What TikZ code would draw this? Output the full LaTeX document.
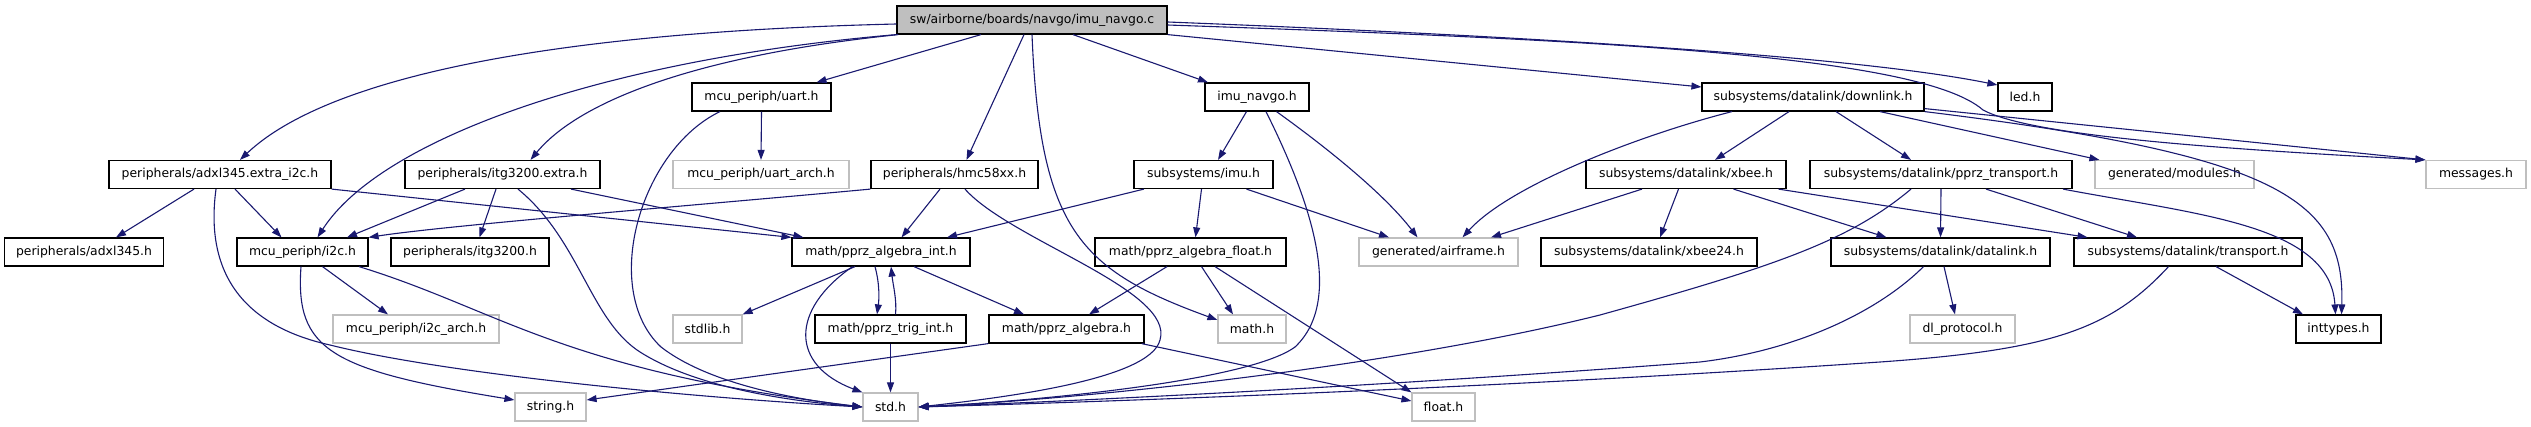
\documentclass[tikz,border=0pt]{standalone}
\usepackage{fontspec}
\setmainfont{DejaVu Sans}
\usetikzlibrary{arrows.meta}
\definecolor{navyline}{RGB}{25,25,112}
\definecolor{boxgray}{RGB}{191,191,191}
\tikzset{
  hdr/.style={rectangle, draw=black, line width=1.2pt, minimum height=28pt,
              inner sep=0pt, align=center},
  sysinc/.style={hdr, draw=boxgray},
  root/.style={hdr, fill=boxgray},
  dep/.style={navyline, line width=1.1pt, -{Triangle[length=10pt,width=7pt]}}
}
\begin{document}
\begin{tikzpicture}[x=1pt, y=-1pt, font=\fontsize{12.4}{14}\selectfont]
\useasboundingbox (0,0) rectangle (2531,427);
% row 0
\node[root, minimum width=270pt] (navgoc) at (1032,20) {sw/airborne/boards/navgo/imu\_navgo.c};
% row 1
\node[hdr, minimum width=139pt] (uart) at (761.5,97) {mcu\_periph/uart.h};
\node[hdr, minimum width=104pt] (navgoh) at (1257,97) {imu\_navgo.h};
\node[hdr, minimum width=222pt] (downlink) at (1813,97) {subsystems/datalink/downlink.h};
\node[hdr, minimum width=54pt] (led) at (2025,97) {led.h};
% row 2
\node[hdr, minimum width=222pt] (adxlx) at (220,174.5) {peripherals/adxl345.extra\_i2c.h};
\node[hdr, minimum width=195pt] (itgx) at (502.5,174.5) {peripherals/itg3200.extra.h};
\node[sysinc, minimum width=176pt] (uartarch) at (761,174.5) {mcu\_periph/uart\_arch.h};
\node[hdr, minimum width=167pt] (hmc) at (954.5,174.5) {peripherals/hmc58xx.h};
\node[hdr, minimum width=139pt] (imu) at (1203.5,174.5) {subsystems/imu.h};
\node[hdr, minimum width=200pt] (xbee) at (1686,174.5) {subsystems/datalink/xbee.h};
\node[hdr, minimum width=262pt] (pprztr) at (1941,174.5) {subsystems/datalink/pprz\_transport.h};
\node[sysinc, minimum width=159pt] (modules) at (2174.5,174.5) {generated/modules.h};
\node[sysinc, minimum width=100pt] (messages) at (2476,174.5) {messages.h};
% row 3
\node[hdr, minimum width=159pt] (adxl) at (84,252) {peripherals/adxl345.h};
\node[hdr, minimum width=131pt] (i2c) at (302.5,252) {mcu\_periph/i2c.h};
\node[hdr, minimum width=158pt] (itg) at (470,252) {peripherals/itg3200.h};
\node[hdr, minimum width=178pt] (algint) at (881,252) {math/pprz\_algebra\_int.h};
\node[hdr, minimum width=191pt] (algfloat) at (1190.5,252) {math/pprz\_algebra\_float.h};
\node[sysinc, minimum width=159pt] (airframe) at (1438.5,252) {generated/airframe.h};
\node[hdr, minimum width=216pt] (xbee24) at (1649,252) {subsystems/datalink/xbee24.h};
\node[hdr, minimum width=219pt] (datalink) at (1940.5,252) {subsystems/datalink/datalink.h};
\node[hdr, minimum width=228pt] (transport) at (2188,252) {subsystems/datalink/transport.h};
% row 4
\node[sysinc, minimum width=166pt] (i2carch) at (416,329) {mcu\_periph/i2c\_arch.h};
\node[sysinc, minimum width=69pt] (stdlib) at (707.5,329) {stdlib.h};
\node[hdr, minimum width=151pt] (trig) at (890.5,329) {math/pprz\_trig\_int.h};
\node[hdr, minimum width=155pt] (alg) at (1066.5,329) {math/pprz\_algebra.h};
\node[sysinc, minimum width=68pt] (math) at (1252,329) {math.h};
\node[sysinc, minimum width=105pt] (dlproto) at (1962.5,329) {dl\_protocol.h};
\node[hdr, minimum width=85pt] (inttypes) at (2338.5,329) {inttypes.h};
% row 5
\node[sysinc, minimum width=71pt] (string) at (550.5,407) {string.h};
\node[sysinc, minimum width=55pt] (std) at (890.5,407) {std.h};
\node[sysinc, minimum width=63pt] (float) at (1443.5,407) {float.h};
% imu_navgo.c
\draw[dep] ([yshift=-4pt]navgoc.west) .. controls (560,32) and (330,75) .. ([xshift=20pt]adxlx.north);
\draw[dep] (navgoc.south west) .. controls (600,60) and (380,140) .. ([xshift=15pt]i2c.north);
\draw[dep] ([xshift=2pt]navgoc.south west) .. controls (700,55) and (580,100) .. ([xshift=28pt]itgx.north);
\draw[dep] ([xshift=-51pt]navgoc.south) -- ([xshift=55pt]uart.north);
\draw[dep] ([xshift=-8pt]navgoc.south) -- ([xshift=12pt]hmc.north);
\draw[dep] (navgoc.south) .. controls (1040,230) and (1080,270) .. ([yshift=9pt]math.west);
\draw[dep] ([xshift=41pt]navgoc.south) -- ([xshift=-49pt]navgoh.north);
\draw[dep] (navgoc.south east) -- ([yshift=10pt]downlink.west);
\draw[dep] ([yshift=-2pt]navgoc.east) .. controls (1500,35) and (1850,55) .. ([yshift=12pt]led.west);
\draw[dep] ([yshift=-5pt]navgoc.east) .. controls (1600,40) and (1920,55) .. (1983,110)
  .. controls (2030,135) and (2200,148) .. (messages.north west);
% downlink.h
\draw[dep] ([xshift=-81pt]downlink.south) .. controls (1640,135) and (1510,185) .. ([xshift=24pt]airframe.north);
\draw[dep] ([xshift=-24pt]downlink.south) -- ([xshift=29pt]xbee.north);
\draw[dep] ([xshift=23pt]downlink.south) -- ([xshift=-30pt]pprztr.north);
\draw[dep] ([xshift=67pt]downlink.south) -- ([xshift=5pt]modules.north west);
\draw[dep] ([yshift=3pt]downlink.south east) -- (messages.north west);
\draw[dep] (downlink.south east) .. controls (2280,155) and (2345,200) .. ([xshift=3pt]inttypes.north);
% imu_navgo.h, imu.h
\draw[dep] ([xshift=-10.5pt]navgoh.south) -- ([xshift=14.5pt]imu.north);
\draw[dep] ([xshift=19.5pt]navgoh.south) .. controls (1330,150) and (1385,195) .. ([xshift=-21pt]airframe.north);
\draw[dep] ([xshift=9pt]navgoh.south) .. controls (1310,200) and (1345,300) .. (1295,347)
  .. controls (1250,380) and (1050,400) .. (std.east);
\draw[dep] ([xshift=10.5pt]imu.south west) -- ([xshift=66pt]algint.north);
\draw[dep] ([xshift=-2pt]imu.south) -- ([xshift=5pt]algfloat.north);
\draw[dep] ([xshift=43pt]imu.south) -- ([xshift=-49.5pt]airframe.north);
% peripherals
\draw[dep] (hmc.south west) .. controls (700,205) and (450,225) .. (i2c.north east);
\draw[dep] ([xshift=-14.5pt]hmc.south) -- ([xshift=20.5pt]algint.north);
\draw[dep] ([xshift=10.5pt]hmc.south) .. controls (1010,240) and (1175,290) .. (1160,340)
  .. controls (1150,380) and (1000,398) .. (std.east);
\draw[dep] ([xshift=-37.5pt]itgx.south) -- ([xshift=44.5pt]i2c.north);
\draw[dep] ([xshift=-6.5pt]itgx.south) -- ([xshift=9.5pt]itg.north);
\draw[dep] ([xshift=15.5pt]itgx.south) .. controls (580,240) and (590,320) .. (640,352)
  .. controls (700,390) and (800,402) .. (std.west);
\draw[dep] ([xshift=68.5pt]itgx.south) -- ([xshift=12pt]algint.north west);
\draw[dep] ([xshift=-26pt]adxlx.south) -- ([xshift=32pt]adxl.north);
\draw[dep] ([xshift=15pt]adxlx.south) -- ([xshift=-21pt]i2c.north);
\draw[dep] ([xshift=-4pt]adxlx.south) .. controls (205,270) and (240,325) .. (330,345)
  .. controls (450,375) and (700,398) .. (std.west);
\draw[dep] (adxlx.south east) -- (algint.north west);
% mcu_periph
\draw[dep] ([xshift=20pt]i2c.south) -- ([xshift=-28pt]i2carch.north);
\draw[dep] ([xshift=-1.5pt]i2c.south) .. controls (295,350) and (330,370) .. ([yshift=7pt]string.west);
\draw[dep] ([xshift=56.5pt]i2c.south) .. controls (500,310) and (560,370) .. (std.west);
\draw[dep] (uart.south) -- (uartarch.north);
\draw[dep] ([xshift=-41.5pt]uart.south) .. controls (640,150) and (600,290) .. (661,347)
  .. controls (710,385) and (800,400) .. (std.west);
% math
\draw[dep] ([xshift=-26pt]algint.south) -- (stdlib.north east);
\draw[dep] ([xshift=-6pt]algint.south) .. controls (880,285) and (879,300) .. ([xshift=-13.5pt]trig.north);
\draw[dep] ([xshift=5pt]trig.north) .. controls (897,300) and (893,285) .. ([xshift=10pt]algint.south);
\draw[dep] ([xshift=33pt]algint.south) -- ([xshift=-42.5pt]alg.north);
\draw[dep] ([xshift=-28.5pt]algint.south) .. controls (790,310) and (790,365) .. (std.north west);
\draw[dep] (trig.south) -- (std.north);
\draw[dep] ([xshift=-23.5pt]algfloat.south) -- ([xshift=22.5pt]alg.north);
\draw[dep] ([xshift=11pt]algfloat.south) -- ([xshift=-19pt]math.north);
\draw[dep] ([xshift=24.5pt]algfloat.south) -- (float.north west);
\draw[dep] (alg.south west) -- ([yshift=7pt]string.east);
\draw[dep] ([xshift=-3pt]alg.south east) -- ([yshift=6pt]float.west);
% datalink
\draw[dep] ([xshift=-44pt]xbee.south) -- ([xshift=52.5pt]airframe.north);
\draw[dep] ([xshift=-7.5pt]xbee.south) -- ([xshift=11pt]xbee24.north);
\draw[dep] ([xshift=47.5pt]xbee.south) -- ([xshift=-54pt]datalink.north);
\draw[dep] ([xshift=92.5pt]xbee.south) -- ([xshift=-100.5pt]transport.north);
\draw[dep] ([xshift=-30pt]pprztr.south) .. controls (1850,240) and (1780,265) .. (1600,315)
  .. controls (1400,365) and (1100,398) .. (std.east);
\draw[dep] (pprztr.south) -- (datalink.north);
\draw[dep] ([xshift=45pt]pprztr.south) -- ([xshift=-51pt]transport.north);
\draw[dep] ([xshift=122pt]pprztr.south) .. controls (2200,215) and (2330,225) .. ([xshift=-3pt]inttypes.north);
\draw[dep] ([xshift=3.5pt]datalink.south) -- ([xshift=-7.5pt]dlproto.north);
\draw[dep] ([xshift=-17pt]datalink.south) .. controls (1880,310) and (1800,350) .. (1700,362)
  .. controls (1400,385) and (1100,400) .. (std.east);
\draw[dep] ([xshift=28pt]transport.south) -- ([xshift=-35.5pt]inttypes.north);
\draw[dep] ([xshift=-19.5pt]transport.south) .. controls (2110,330) and (2050,350) .. (1880,362)
  .. controls (1500,388) and (1100,402) .. (std.east);
\end{tikzpicture}
\end{document}
